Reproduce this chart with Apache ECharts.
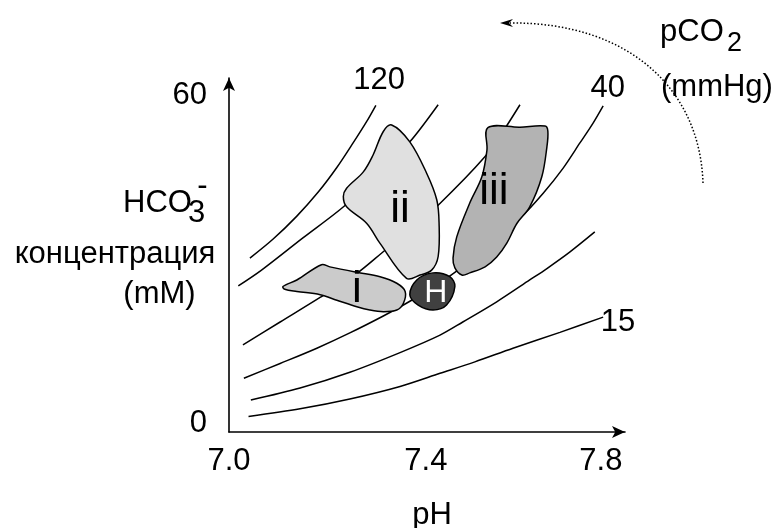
<!DOCTYPE html>
<html><head><meta charset="utf-8">
<script src="https://cdn.jsdelivr.net/npm/echarts@6/dist/echarts.min.js"></script>
<style>html,body{margin:0;padding:0;background:#fff}#c{width:774px;height:528px}</style>
</head><body><div id="c"></div>
<script>
// axis ticks
const xTicks = [7.0, 7.4, 7.8];
const yTicks = [0, 60];

// pCO2 isopleths [pH, HCO3 mM]
const iso120 = [[7.045,30.2],[7.095,33.7],[7.146,37.9],[7.192,42.3],[7.232,46.8],[7.267,51.3],[7.296,55.2],[7.316,58.2]];
const isoB = [[7.020,25.1],[7.070,28.0],[7.159,33.9],[7.249,39.8],[7.320,45.6],[7.389,51.5],[7.450,58.3]];
const isoC = [[7.030,14.3],[7.110,18.5],[7.196,23.0],[7.275,27.4],[7.328,31.1],[7.389,35.5],[7.450,39.9],[7.551,48.8],[7.594,54.0],[7.626,58.3]];
const iso40 = [[7.032,8.2],[7.110,10.9],[7.189,13.7],[7.260,16.5],[7.332,19.6],[7.379,21.8],[7.432,24.5],[7.486,27.6],[7.551,32.0],[7.626,37.5],[7.676,42.1],[7.719,46.7],[7.755,51.3],[7.783,54.9],[7.805,58.1]];
const isoE = [[7.047,4.2],[7.153,6.4],[7.260,9.3],[7.368,12.9],[7.454,16.1],[7.503,18.5],[7.576,22.2],[7.647,26.2],[7.684,28.3],[7.733,31.3],[7.787,35.0]];
const iso15 = [[7.042,1.2],[7.153,2.6],[7.260,4.4],[7.368,6.7],[7.454,9.1],[7.529,11.2],[7.611,13.7],[7.712,16.6],[7.805,19.4]];

// regions
const regionI = [[7.116,25.0],[7.146,26.2],[7.199,29.0],[7.217,28.6],[7.275,27.6],[7.325,26.8],[7.361,25.6],[7.379,24.1],[7.375,21.9],[7.361,20.7],[7.332,20.4],[7.303,20.7],[7.275,21.3],[7.232,22.5],[7.196,23.5],[7.146,24.1],[7.120,24.5]];
const regionII = [[7.350,54.6],[7.389,51.5],[7.425,45.8],[7.447,40.9],[7.452,36.6],[7.450,30.5],[7.436,28.0],[7.411,27.1],[7.382,26.5],[7.325,32.9],[7.296,36.6],[7.253,39.6],[7.246,41.5],[7.253,43.0],[7.289,46.0],[7.310,49.1],[7.332,53.4]];
const regionIII = [[7.557,54.1],[7.626,54.2],[7.680,54.4],[7.686,53.5],[7.684,50.6],[7.673,45.1],[7.647,39.6],[7.619,36.5],[7.598,33.0],[7.576,30.4],[7.551,28.6],[7.518,27.5],[7.501,27.1],[7.486,28.4],[7.482,30.2],[7.490,34.1],[7.518,40.3],[7.544,45.1],[7.555,50.0]];
const regionH = [[7.389,23.5],[7.404,26.2],[7.439,27.5],[7.475,26.8],[7.486,25.0],[7.468,21.6],[7.439,20.7],[7.407,21.6]];

// labels
const isoLabels = [{name:'120', value:[7.323,62.8]},{name:'40', value:[7.815,61.2]},{name:'15', value:[7.837,18.5]}];
const regionLabels = [{name:'i', value:[7.275,24.4]},{name:'ii', value:[7.368,39.0]},{name:'iii', value:[7.570,42.3]}];
const hLabel = [{name:'H', value:[7.445,23.8]}];

const FONT = "'Liberation Sans', Arial, Helvetica, sans-serif";
const chart = echarts.init(document.getElementById('c'), null, {renderer:'canvas'});

function lineSeries(data){
  return {type:'line', data:data, smooth:0.3, symbol:'none', clip:false, z:2,
    lineStyle:{color:'#000', width:1.5}, silent:true};
}
function regionSeries(pts, fill){
  return {type:'custom', clip:false, z:3, data:[0], silent:true,
    renderItem:function(params, api){
      return {type:'polygon', shape:{points:pts.map(p=>api.coord(p)), smooth:0.35},
        style:{fill:fill, stroke:'#000', lineWidth:1.5}};
    }};
}
function labelSeries(data, size, color){
  return {type:'scatter', data:data, symbolSize:0, clip:false, z:6, silent:true,
    itemStyle:{opacity:1, color:color},
    label:{show:true, position:'inside', formatter:'{b}', fontSize:size, color:color, fontFamily:FONT,
      textBorderWidth:0, opacity:1}};
}
function txt(x, y, s, size, align){
  return {type:'text', x:x, y:y, z:10, silent:true,
    style:{text:s, font:size+'px '+FONT, fill:'#000', align:align||'left', verticalAlign:'middle'}};
}

chart.setOption({
  animation:false,
  backgroundColor:'#fff',
  grid:{left:229, right:149, top:78, bottom:96, containLabel:false, outerBoundsMode:'none'},
  xAxis:{type:'value', min:7.0, max:7.852,
    axisLine:{show:true, onZero:false, symbol:['none','arrow'], symbolSize:[9,13], lineStyle:{color:'#000', width:1.6}},
    axisTick:{show:false}, splitLine:{show:false},
    axisLabel:{customValues:xTicks, fontSize:31, color:'#000', fontFamily:FONT, margin:14,
      formatter:function(v){ return Math.abs(v-7.4)<1e-6 ? '{s|7.4}' : v.toFixed(1); },
      rich:{s:{fontSize:31, color:'#000', fontFamily:FONT, padding:[0,0,0,22]}}},
    name:'pH', nameLocation:'middle', nameGap:68,
    nameTextStyle:{fontSize:31, color:'#000', fontFamily:FONT, padding:[0,0,0,10]}
  },
  yAxis:{type:'value', min:-1.65, max:63.2,
    axisLine:{show:true, onZero:false, symbol:['none','arrow'], symbolSize:[9,13], lineStyle:{color:'#000', width:1.6}},
    axisTick:{show:false}, splitLine:{show:false},
    axisLabel:{customValues:yTicks, fontSize:31, color:'#000', fontFamily:FONT, margin:22}
  },
  graphic:[
    txt(123, 203, 'HCO', 31, 'left'),
    txt(188, 213, '3', 31, 'left'),
    txt(202.5, 186, '-', 31, 'center'),
    txt(115, 254, 'концентрация', 31, 'center'),
    txt(159.5, 294, '(mM)', 31, 'center'),
    txt(660, 32, 'pCO', 31, 'left'),
    txt(727, 44, '2', 27, 'left'),
    txt(661, 87, '(mmHg)', 31, 'left'),
    {type:'bezierCurve', z:10, silent:true,
      shape:{x1:703, y1:183, cpx1:700, cpy1:90, cpx2:630, cpy2:22, x2:510, y2:23},
      style:{stroke:'#000', lineWidth:1.5, lineDash:[1.5,2], fill:null}},
    {type:'polygon', z:10, silent:true, shape:{points:[[500,23],[513,19],[509,23],[513,27]]}, style:{fill:'#000'}}
  ],
  series:[
    lineSeries(iso120), lineSeries(isoB), lineSeries(isoC), lineSeries(iso40), lineSeries(isoE), lineSeries(iso15),
    regionSeries(regionI, '#cbcbcb'),
    regionSeries(regionII, '#e0e0e0'),
    regionSeries(regionIII, '#b3b3b3'),
    regionSeries(regionH, '#404040'),
    labelSeries(isoLabels, 31, '#000'),
    labelSeries(regionLabels, 44, '#000'),
    labelSeries(hLabel, 32, '#fff')
  ]
});
</script></body></html>
